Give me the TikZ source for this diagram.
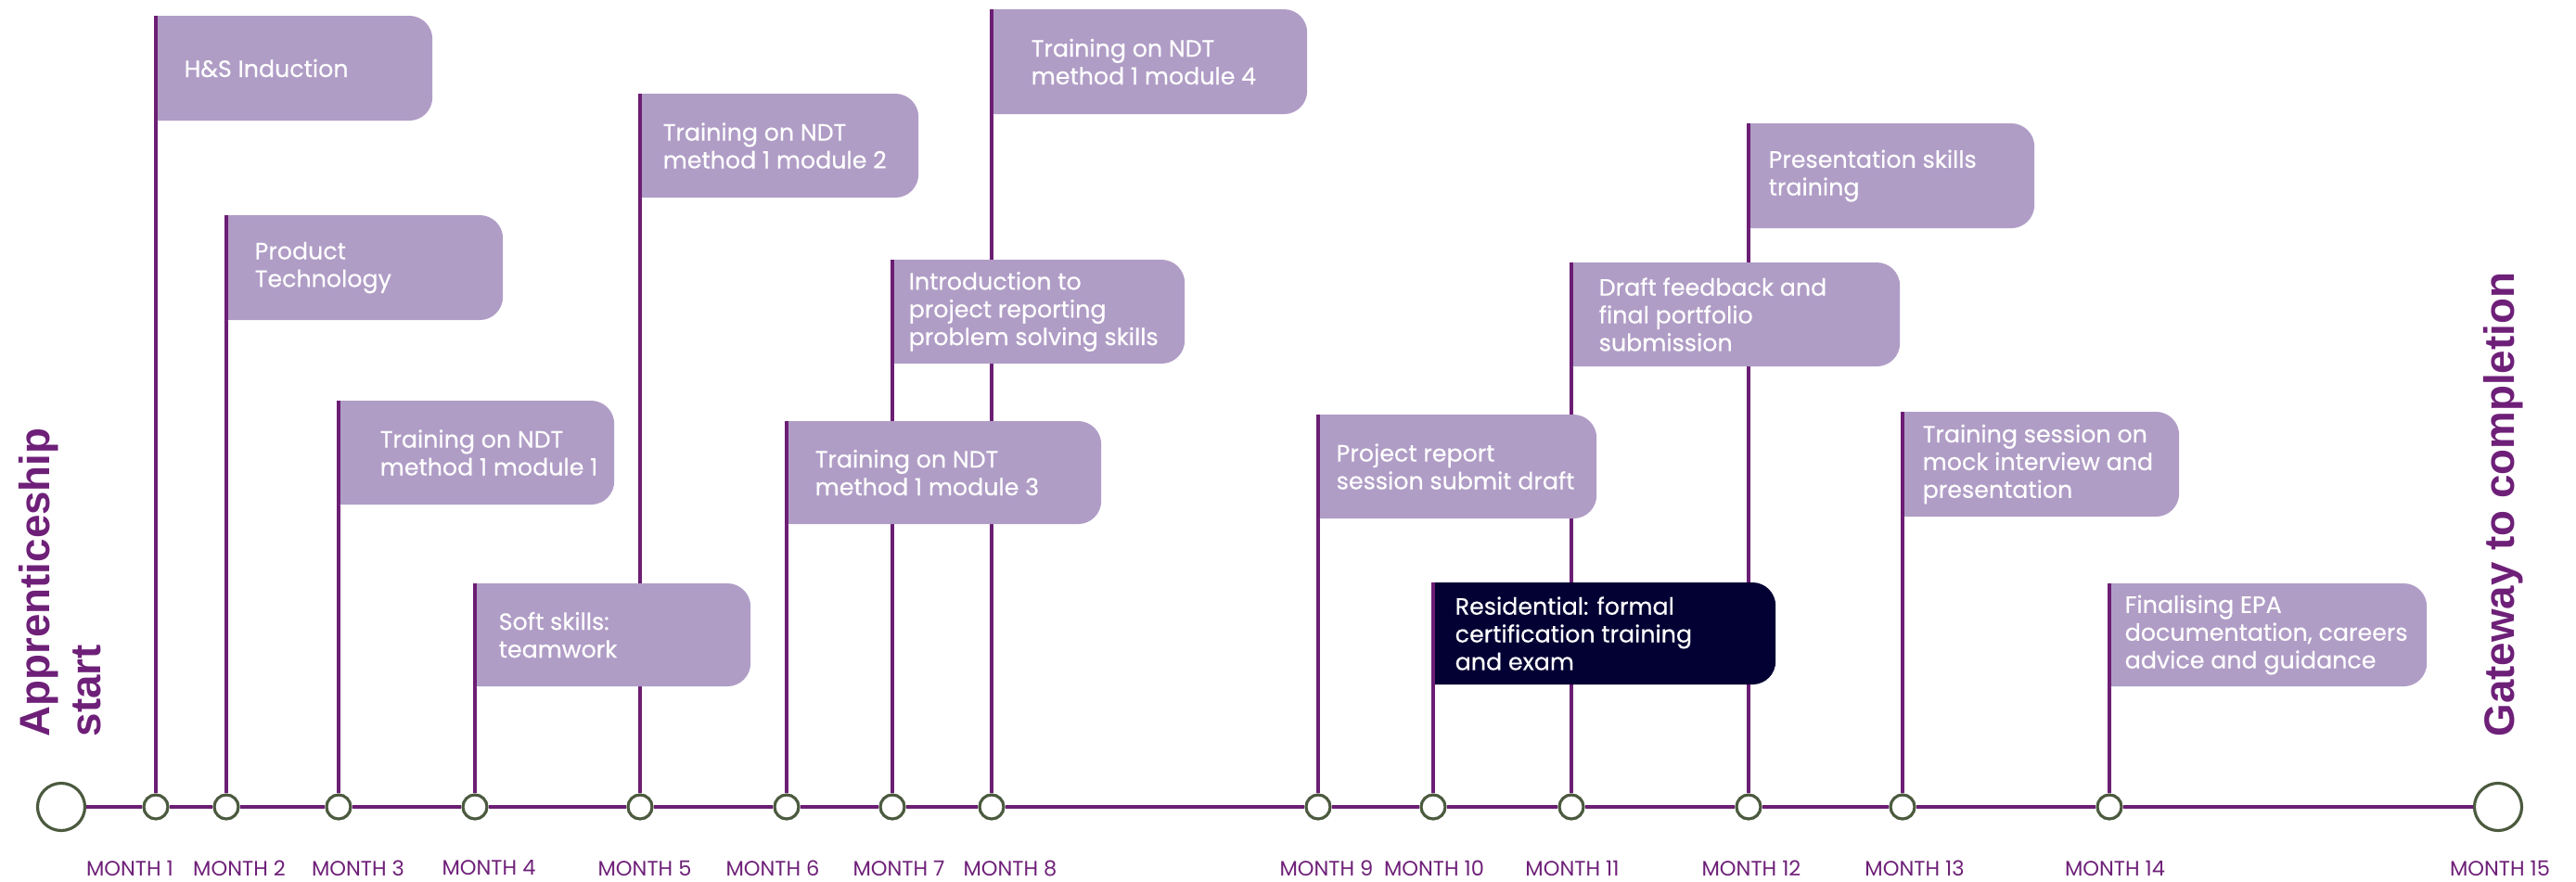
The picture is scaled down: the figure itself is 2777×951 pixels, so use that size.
\documentclass[tikz,border=0pt]{standalone}
\usepackage{fontspec}
\setmainfont{Poppins}
\newfontfamily\boxfont[FakeBold=0.35]{Poppins}
\newfontfamily\labfont{Liberation Sans}
\definecolor{tlpurple}{RGB}{108,30,116}
\definecolor{boxc}{RGB}{176,157,198}
\definecolor{darkc}{RGB}{3,1,52}
\definecolor{ringc}{RGB}{75,90,62}
\definecolor{lblc}{RGB}{110,32,120}
\begin{document}
\begin{tikzpicture}[x=0.01cm, y=-0.01cm,
  mk/.style={circle, draw=ringc, line width=0.9pt, fill=white, minimum size=0.26cm, inner sep=0pt},
  bigmk/.style={mk, minimum size=0.51cm},
  tline/.style={draw=tlpurple, line width=1.2pt},
  stem/.style={draw=tlpurple, line width=1pt},
  boxnode/.style={anchor=north west, inner sep=0pt, outer sep=0pt},
  btxt/.style={anchor=west, align=left, text=white, inner sep=0pt, font=\boxfont\fontsize{7.2}{8.5}\selectfont},
  mlbl/.style={text=lblc, inner sep=0pt, font=\fontsize{6.4}{7.5}\selectfont},
  vlbl/.style={text=lblc, inner sep=0pt, font=\labfont\bfseries\fontsize{13}{15.6}\selectfont, rotate=90}
]
\useasboundingbox (0,0) rectangle (2777,951);
\def\R{0.25cm}
% markers
\node[bigmk] (c0) at (66,870) {};
\node[mk] (m1) at (168,870) {};
\node[mk] (m2) at (244,870) {};
\node[mk] (m3) at (365,870) {};
\node[mk] (m4) at (512,870) {};
\node[mk] (m5) at (690,870) {};
\node[mk] (m6) at (848,870) {};
\node[mk] (m7) at (962,870) {};
\node[mk] (m8) at (1069,870) {};
\node[mk] (m9) at (1421,870) {};
\node[mk] (m10) at (1545,870) {};
\node[mk] (m11) at (1694,870) {};
\node[mk] (m12) at (1885,870) {};
\node[mk] (m13) at (2051,870) {};
\node[mk] (m14) at (2274,870) {};
\node[bigmk] (c15) at (2693,870) {};
% box frames
\node[boxnode, minimum width=2.98cm, minimum height=1.13cm] (b1) at (168,17) {};
\node[boxnode, minimum width=2.98cm, minimum height=1.13cm] (b2) at (244,232) {};
\node[boxnode, minimum width=2.97cm, minimum height=1.12cm] (b3) at (365,432) {};
\node[boxnode, minimum width=2.97cm, minimum height=1.11cm] (b4) at (512,629) {};
\node[boxnode, minimum width=3.00cm, minimum height=1.12cm] (b5) at (690,101) {};
\node[boxnode, minimum width=3.39cm, minimum height=1.11cm] (b6) at (848,454) {};
\node[boxnode, minimum width=3.15cm, minimum height=1.12cm] (b7) at (962,280) {};
\node[boxnode, minimum width=3.40cm, minimum height=1.13cm] (b8) at (1069,10) {};
\node[boxnode, minimum width=3.00cm, minimum height=1.12cm] (b9) at (1421,447) {};
\node[boxnode, minimum width=3.69cm, minimum height=1.10cm] (b10) at (1545,628) {};
\node[boxnode, minimum width=3.54cm, minimum height=1.12cm] (b11) at (1694,283) {};
\node[boxnode, minimum width=3.08cm, minimum height=1.13cm] (b12) at (1885,133) {};
\node[boxnode, minimum width=2.98cm, minimum height=1.13cm] (b13) at (2051,444) {};
\node[boxnode, minimum width=3.42cm, minimum height=1.11cm] (b14) at (2274,629) {};
% timeline and stems
\draw[tline] (c0) -- (m1) -- (m2) -- (m3) -- (m4) -- (m5) -- (m6) -- (m7) -- (m8) -- (m9) -- (m10) -- (m11) -- (m12) -- (m13) -- (m14) -- (c15);
\foreach \i in {1,...,14} \draw[stem] (m\i) -- (b\i.north west);
% box fills
\foreach \b/\c in {b1/boxc,b2/boxc,b3/boxc,b4/boxc,b5/boxc,b6/boxc,b7/boxc,b8/boxc,b9/boxc,b10/darkc,b11/boxc,b12/boxc,b13/boxc,b14/boxc}
  \fill[\c] (\b.north west) -- ([xshift=-\R]\b.north east) arc[start angle=90,end angle=0,radius=\R]
    -- ([yshift=\R]\b.south east) arc[start angle=0,end angle=-90,radius=\R] -- (\b.south west) -- cycle;
\foreach \i in {1,...,14} \draw[stem] (b\i.north west) -- (b\i.south west);
% texts
\node[btxt] (t1) at ([xshift=0.30cm]b1.west) {H\&S Induction};
\node[btxt] (t2) at ([xshift=0.30cm]b2.west) {Product\\Technology};
\node[btxt] (t3) at ([xshift=0.44cm]b3.west) {Training on NDT\\method 1 module 1};
\node[btxt] (t4) at ([xshift=0.25cm]b4.west) {Soft skills:\\teamwork};
\node[btxt] (t5) at ([xshift=0.24cm]b5.west) {Training on NDT\\method 1 module 2};
\node[btxt] (t6) at ([xshift=0.30cm]b6.west) {Training on NDT\\method 1 module 3};
\node[btxt] (t7) at ([xshift=0.17cm]b7.west) {Introduction to\\project reporting\\problem solving skills};
\node[btxt] (t8) at ([xshift=0.42cm]b8.west) {Training on NDT\\method 1 module 4};
\node[btxt] (t9) at ([xshift=0.19cm]b9.west) {Project report\\session submit draft};
\node[btxt] (t10) at ([xshift=0.23cm]b10.west) {Residential: formal\\certification training\\and exam};
\node[btxt] (t11) at ([xshift=0.29cm]b11.west) {Draft feedback and\\final portfolio\\submission};
\node[btxt] (t12) at ([xshift=0.21cm]b12.west) {Presentation skills\\training};
\node[btxt] (t13) at ([xshift=0.21cm]b13.west) {Training session on\\mock interview and\\presentation};
\node[btxt] (t14) at ([xshift=0.16cm]b14.west) {Finalising EPA\\documentation, careers\\advice and guidance};
% month labels
\node[mlbl] (l1) at (140,936) {MONTH 1};
\node[mlbl] (l2) at (258,936) {MONTH 2};
\node[mlbl] (l3) at (386,936) {MONTH 3};
\node[mlbl] (l4) at (527,936) {MONTH 4};
\node[mlbl] (l5) at (695,936) {MONTH 5};
\node[mlbl] (l6) at (833,936) {MONTH 6};
\node[mlbl] (l7) at (969,936) {MONTH 7};
\node[mlbl] (l8) at (1089,936) {MONTH 8};
\node[mlbl] (l9) at (1430,936) {MONTH 9};
\node[mlbl] (l10) at (1546,936) {MONTH 10};
\node[mlbl] (l11) at (1695,936) {MONTH 11};
\node[mlbl] (l12) at (1888,936) {MONTH 12};
\node[mlbl] (l13) at (2064,936) {MONTH 13};
\node[mlbl] (l14) at (2280,936) {MONTH 14};
\node[mlbl] (l15) at (2695,936) {MONTH 15};
% vertical labels
\node[vlbl, anchor=south west, align=left] (vs) at (110,795) {Apprenticeship\\start};
\node[vlbl, anchor=base west] (vg) at (2710,795) {Gateway to completion};
\end{tikzpicture}
\end{document}
